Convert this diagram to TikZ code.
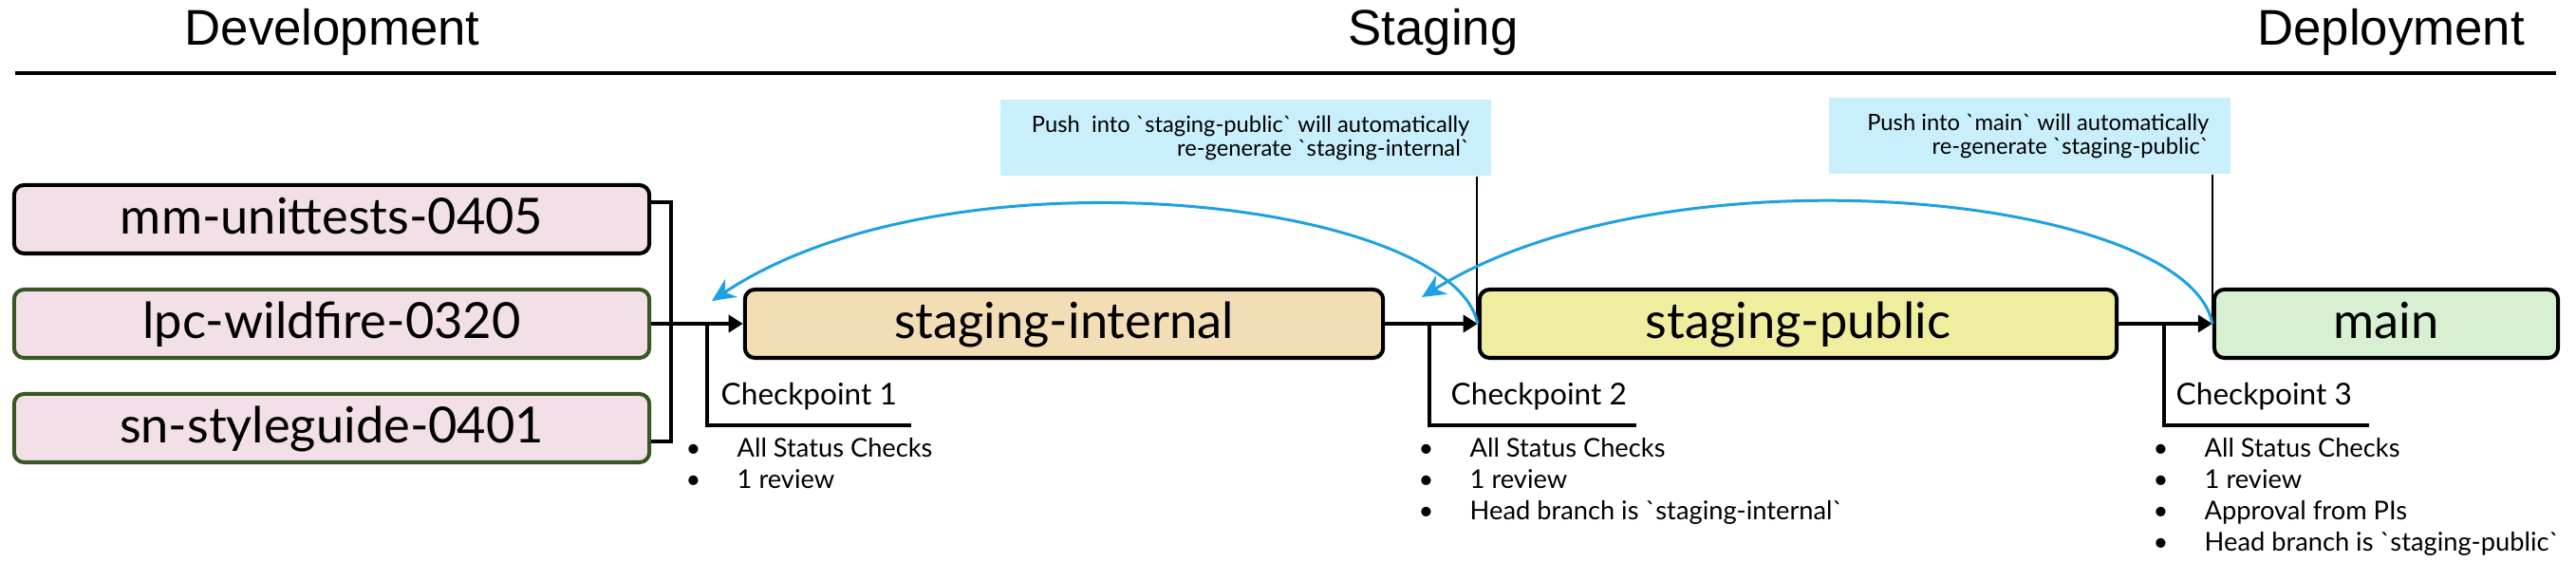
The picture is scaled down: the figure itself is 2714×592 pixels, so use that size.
\documentclass[tikz,border=0pt]{standalone}
\usepackage{fontspec}
\setmainfont{Lato}
\newfontfamily\headfont{Liberation Sans}
\usetikzlibrary{arrows.meta}
\definecolor{pinkfill}{RGB}{242,223,231}
\definecolor{darkgreen}{RGB}{56,87,35}
\definecolor{wheat}{RGB}{242,221,181}
\definecolor{khaki}{RGB}{238,238,158}
\definecolor{mint}{RGB}{214,240,209}
\definecolor{noteblue}{RGB}{201,239,252}
\definecolor{arcblue}{RGB}{29,161,226}
\newcommand\bitem{\makebox[0.54cm][l]{\textbullet}}
\begin{document}
\begin{tikzpicture}[x=0.01cm,y=-0.01cm,
  hdr/.style={anchor=base,inner sep=0pt,font=\headfont\fontsize{15}{17}\selectfont},
  boxbase/.style={rounded corners=3pt,line width=1.15pt,minimum height=0.72cm,inner sep=0pt,
    text height=11pt,text depth=1.9pt,font=\fontsize{14.9}{16}\selectfont},
  branchbox/.style={boxbase,fill=pinkfill,minimum width=6.69cm},
  stagebox/.style={boxbase,draw=black},
  flow/.style={line width=1.4pt,-{Triangle[length=4.3pt,width=5.1pt]}},
  cpline/.style={line width=0.9pt},
  cptext/.style={anchor=base west,inner sep=0pt,font=\fontsize{9}{10}\selectfont},
  bul/.style={anchor=base west,inner sep=0pt,font=\fontsize{7.75}{9}\selectfont},
  note/.style={fill=noteblue,inner sep=0pt,minimum height=0.8cm},
  notetext/.style={anchor=east,inner sep=0pt,align=right,font=\fontsize{6.75}{7.1}\selectfont},
  thinline/.style={line width=0.7pt},
  backarc/.style={draw=arcblue,line width=0.85pt,-{Stealth[length=7pt,width=6.5pt]}}
]
\useasboundingbox (0,0) rectangle (2714,592);

% headers
\node[hdr] (hdev) at (350,48) {Development};
\node[hdr] (hstg) at (1510,48) {Staging};
\node[hdr] (hdep) at (2519,48) {Deployment};
\coordinate (r1) at (16,77);
\coordinate (r2) at (2693,77);
\draw[line width=1.15pt] (r1) -- (r2);

% branches
\node[branchbox,draw=black] (b1) at (349.5,231) {mm-unittests-0405};
\node[branchbox,draw=darkgreen] (b2) at (349.5,341) {lpc-wildfire-0320};
\node[branchbox,draw=darkgreen] (b3) at (349.5,451) {sn-styleguide-0401};
\coordinate (jx) at (707,341);
\draw[cpline] ([yshift=0.18cm]b1.east) -| (jx) |- ([yshift=-0.14cm]b3.east);

% stages
\node[stagebox,fill=wheat,minimum width=6.72cm] (si) at (1121,341) {staging-internal};
\node[stagebox,fill=khaki,minimum width=6.71cm] (sp) at (1894.5,341) {staging-public};
\node[stagebox,fill=mint,minimum width=3.62cm] (mn) at (2514,341) {main};

\draw[flow] (b2.east) -- (si.west);
\draw[flow] (si.east) -- (sp.west);
\draw[flow] (sp.east) -- (mn.west);

% checkpoints
\coordinate (k1a) at (745,341);  \coordinate (k1b) at (960,448);
\coordinate (k2a) at (1506,341); \coordinate (k2b) at (1724,448);
\coordinate (k3a) at (2280,341); \coordinate (k3b) at (2496,448);
\draw[cpline] (k1a) |- (k1b);
\draw[cpline] (k2a) |- (k2b);
\draw[cpline] (k3a) |- (k3b);
\node[cptext] (cp1) at (759,427) {Checkpoint 1};
\node[cptext] (cp2) at (1528,427) {Checkpoint 2};
\node[cptext] (cp3) at (2292,427) {Checkpoint 3};

\node[bul] (l1a) at (722,482) {\bitem All Status Checks};
\node[bul] (l1b) at (722,515) {\bitem 1 review};
\node[bul] (l2a) at (1494,482) {\bitem All Status Checks};
\node[bul] (l2b) at (1494,515) {\bitem 1 review};
\node[bul] (l2c) at (1494,548) {\bitem Head branch is \textasciigrave staging-internal\textasciigrave};
\node[bul] (l3a) at (2268,482) {\bitem All Status Checks};
\node[bul] (l3b) at (2268,515) {\bitem 1 review};
\node[bul] (l3c) at (2268,548) {\bitem Approval from PIs};
\node[bul] (l3d) at (2268,581) {\bitem Head branch is \textasciigrave staging-public\textasciigrave};

% notes
\node[note,minimum width=5.17cm] (cb1) at (1312.5,145) {};
\node[notetext] (ct1) at (1549,145)
  {Push\ \ into \textasciigrave staging-public\textasciigrave{} will automatically\\re-generate \textasciigrave staging-internal\textasciigrave};
\node[note,minimum width=4.23cm] (cb2) at (2138.5,143) {};
\node[notetext] (ct2) at (2328,143)
  {Push into \textasciigrave main\textasciigrave{} will automatically\\re-generate \textasciigrave staging-public\textasciigrave};
\coordinate (v1) at (1556,341);
\coordinate (v2) at (2331,341);
\draw[thinline] (cb1.south -| v1) -- (v1);
\draw[thinline] (cb2.south -| v2) -- (v2);

% back arcs
\coordinate (t1) at (750,317);
\coordinate (t2) at (1498,313);
\draw[backarc] (sp.west) .. controls (1530,210) and (1000,150) .. (t1);
\draw[backarc] (mn.west) .. controls (2305,205) and (1760,150) .. (t2);
\end{tikzpicture}
\end{document}
